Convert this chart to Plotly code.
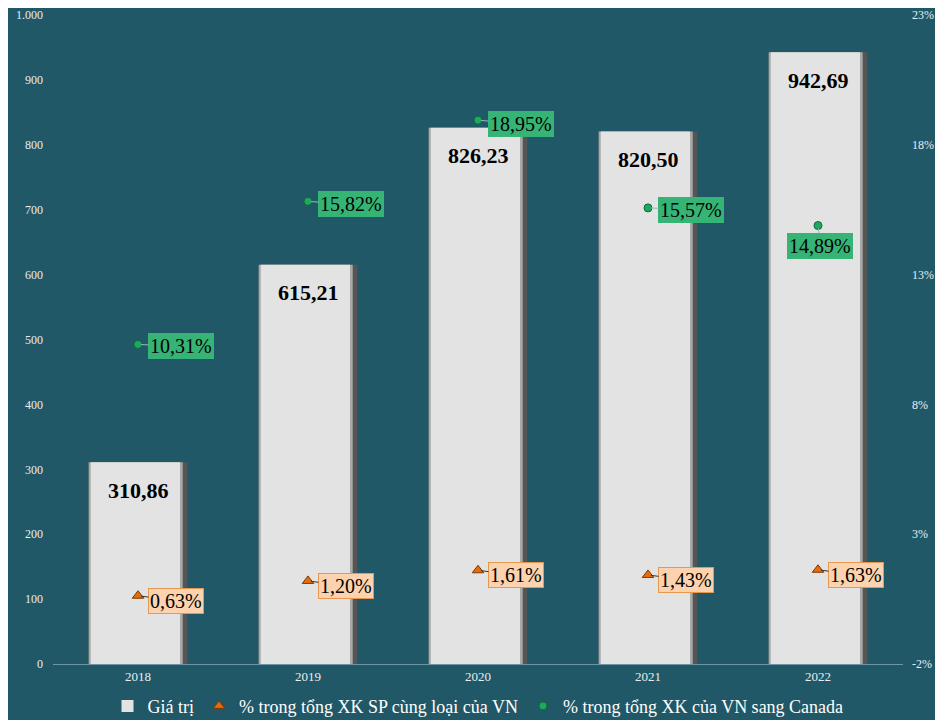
import plotly.graph_objects as go

years = ["2018", "2019", "2020", "2021", "2022"]
gia_tri = [310.86, 615.21, 826.23, 820.50, 942.69]
pct_sp_cung_loai = [0.63, 1.20, 1.61, 1.43, 1.63]
pct_xk_canada = [10.31, 15.82, 18.95, 15.57, 14.89]

left_ticks = [0, 100, 200, 300, 400, 500, 600, 700, 800, 900, 1000]
right_ticks = [-2, 3, 8, 13, 18, 23]
right_tick_text = ["-2%", "3%", "8%", "13%", "18%", "23%"]

BG = "#215867"
FONT = "Liberation Serif"

def vn(v):
    return f"{v:.2f}".replace(".", ",")

fig = go.Figure()

# Bars built in layers to mimic the bevelled 3-D look
fig.add_trace(go.Bar(x=years, y=gia_tri, width=0.58, offset=-0.29,
                     marker=dict(color="#555555", line=dict(width=0)),
                     showlegend=False, hoverinfo="skip"))
fig.add_trace(go.Bar(x=years, y=gia_tri, width=0.553, offset=-0.29,
                     marker=dict(color="#a9a9a9", line=dict(width=0)),
                     showlegend=False, hoverinfo="skip"))
fig.add_trace(go.Bar(x=years, y=gia_tri, width=0.525, offset=-0.278,
                     name="Giá trị",
                     marker=dict(color="#e3e3e3", line=dict(width=0))))

fig.add_trace(go.Scatter(x=years, y=pct_sp_cung_loai, yaxis="y2", mode="markers",
                         name="% trong tổng XK SP cùng loại của VN",
                         marker=dict(symbol="triangle-up", size=10, color="#e46c0a",
                                     line=dict(color="#7a3a05", width=1))))
fig.add_trace(go.Scatter(x=years, y=pct_xk_canada, yaxis="y2", mode="markers",
                         name="% trong tổng XK của VN sang Canada",
                         marker=dict(symbol="circle", size=8, color="#1fa860",
                                     line=dict(color="#0d6b38", width=1))))

annotations = []
for i, v in enumerate(gia_tri):
    annotations.append(dict(x=i, y=v, xref="x", yref="y", text=f"<b>{vn(v)}</b>",
                            showarrow=False, yshift=-28,
                            font=dict(family=FONT, size=22, color="#000000")))

for i, v in enumerate(pct_sp_cung_loai):
    annotations.append(dict(x=i, y=v, xref="x", yref="y2", text=f"{vn(v)}%",
                            showarrow=True, arrowhead=0, arrowwidth=1, arrowcolor="#333333",
                            ax=38, ay=5, standoff=3,
                            bgcolor="#fcd3ae", bordercolor="#e8974f", borderwidth=1, borderpad=1,
                            font=dict(family=FONT, size=20, color="#000000")))

green_offsets = [(43, 2), (43, 3), (43, 4), (43, 2), (2, 20)]
for i, (v, (ax, ay)) in enumerate(zip(pct_xk_canada, green_offsets)):
    annotations.append(dict(x=i, y=v, xref="x", yref="y2", text=f"{vn(v)}%",
                            showarrow=True, arrowhead=0, arrowwidth=1, arrowcolor="#9fb8bf",
                            ax=ax, ay=ay, standoff=3,
                            bgcolor="#35b476", bordercolor="#35b476", borderwidth=1, borderpad=1,
                            font=dict(family=FONT, size=20, color="#000000")))

fig.update_layout(
    width=935, height=712,
    paper_bgcolor=BG, plot_bgcolor=BG,
    margin=dict(l=45, r=40, t=7, b=56, autoexpand=False),
    separators=",.",
    barmode="overlay",
    font=dict(family=FONT, color="#e8eef0", size=12),
    xaxis=dict(type="category", showgrid=False, showline=True, linecolor="#6d97a4",
               linewidth=1, ticks="", tickfont=dict(size=13, color="#e8eef0"),
               range=[-0.5, 4.5]),
    yaxis=dict(range=[0, 1000], tickvals=left_ticks, tickformat=",d", showgrid=False,
               zeroline=False, showline=False, ticks="", ticklabelstandoff=9,
               tickfont=dict(size=12, color="#e8eef0")),
    yaxis2=dict(range=[-2, 23], overlaying="y", side="right", tickvals=right_ticks,
                ticktext=right_tick_text, showgrid=False, zeroline=False, showline=False,
                ticks="", ticklabelstandoff=8, tickfont=dict(size=12, color="#e8eef0")),
    legend=dict(orientation="h", x=0.5, xanchor="center", y=-0.065, yanchor="middle",
                font=dict(family=FONT, size=18, color="#ffffff"), bgcolor="rgba(0,0,0,0)",
                itemwidth=30),
    annotations=annotations,
    showlegend=True,
)

fig.write_html("out.html")
